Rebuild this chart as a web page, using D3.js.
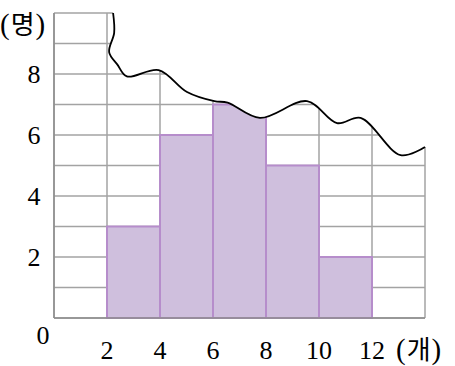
<!DOCTYPE html>
<html><head><meta charset="utf-8">
<script src="https://cdn.jsdelivr.net/npm/d3@7"></script>
<style>body{margin:0;background:#fff}svg{display:block}</style>
</head><body>
<script>
const classStarts = [2, 4, 6, 8, 10];
const classWidth = 2;
const counts = [3, 6, 7, 5, 2];
const xTickLabels = [2, 4, 6, 8, 10, 12];
const yTickLabels = [2, 4, 6, 8];
const xUnit = "(개)";
const yUnit = "(명)";
// torn-edge line, in data units (x: 개, y: 명)
const waveX = [2.23, 2.27, 2.08, 2.40, 2.75, 3.95, 5.02, 6.05, 6.55, 7.77, 9.55, 10.68, 11.57, 13.08, 14.0];
const waveY = [10.0, 9.35, 8.72, 8.30, 7.92, 8.13, 7.41, 7.11, 7.06, 6.56, 7.11, 6.39, 6.56, 5.34, 5.61];

const W = 455, H = 366;
const x = d3.scaleLinear().domain([0, 14]).range([54, 425]);
const y = d3.scaleLinear().domain([0, 10]).range([318, 13]);

const svg = d3.select("body").append("svg").attr("width", W).attr("height", H);

const wavePts = waveX.map((v, i) => [x(v), y(waveY[i])]);
const line = d3.line().curve(d3.curveCatmullRom.alpha(0.5));
const waveD = line(wavePts);

const first = wavePts[0], last = wavePts[wavePts.length - 1];
const clipD = `M${x(0)-3},${y(10)-3}L${first[0]},${y(10)-3}` +
  waveD.replace(/^M[^CL]*/, `L${first[0]},${first[1]}`) +
  `L${x(14)+3},${last[1]}L${x(14)+3},${y(0)+3}L${x(0)-3},${y(0)+3}Z`;
svg.append("defs").append("clipPath").attr("id", "clip")
  .append("path").attr("d", clipD);

const g = svg.append("g").attr("clip-path", "url(#clip)");
const gridColor = "#a3a3a3";
g.selectAll("line.h").data(d3.range(0, 11)).join("line")
  .attr("x1", x(0)).attr("x2", x(14)).attr("y1", d => y(d)).attr("y2", d => y(d))
  .attr("stroke", gridColor).attr("stroke-width", 1.5);
g.selectAll("line.v").data(d3.range(0, 15, 2)).join("line")
  .attr("y1", y(0)).attr("y2", y(10)).attr("x1", d => x(d)).attr("x2", d => x(d))
  .attr("stroke", gridColor).attr("stroke-width", 1.5);

g.selectAll("rect.bar").data(classStarts).join("rect")
  .attr("x", d => x(d)).attr("width", d => x(d + classWidth) - x(d))
  .attr("y", (d, i) => y(counts[i])).attr("height", (d, i) => y(0) - y(counts[i]))
  .attr("fill", "#cfbfdd").attr("stroke", "#b68dcb").attr("stroke-width", 2);

svg.append("line").attr("x1", x(0)).attr("x2", x(14)).attr("y1", y(0)).attr("y2", y(0))
  .attr("stroke", "#8c8c8c").attr("stroke-width", 1.5);
svg.append("line").attr("x1", x(0)).attr("x2", x(0)).attr("y1", y(0)).attr("y2", y(10))
  .attr("stroke", "#8c8c8c").attr("stroke-width", 1.5);

svg.append("path").attr("d", waveD).attr("fill", "none")
  .attr("stroke", "#000").attr("stroke-width", 1.8);

const font = "'Liberation Serif', 'DejaVu Serif', serif";
svg.selectAll("text.xt").data(xTickLabels).join("text")
  .attr("x", d => x(d)).attr("y", 359).attr("text-anchor", "middle")
  .attr("font-family", font).attr("font-size", 26).text(d => d);
svg.selectAll("text.yt").data(yTickLabels).join("text")
  .attr("x", 34).attr("y", d => y(d) + 9).attr("text-anchor", "middle")
  .attr("font-family", font).attr("font-size", 26).text(d => d);
svg.append("text").attr("x", 43).attr("y", 344).attr("text-anchor", "middle")
  .attr("font-family", font).attr("font-size", 26).text("0");

function unit(tx, ty, s) {
  const t = svg.append("text").attr("x", tx).attr("y", ty)
    .attr("font-family", font).attr("font-size", 29);
  t.append("tspan").text(s[0]);
  t.append("tspan").attr("font-family", "'Noto Sans CJK KR'").attr("font-size", 26).attr("dx", 1).text(s.slice(1, -1));
  t.append("tspan").attr("dx", 1).text(s.slice(-1));
}
unit(0, 34, yUnit);
unit(396, 359, xUnit);
</script>
</body></html>
